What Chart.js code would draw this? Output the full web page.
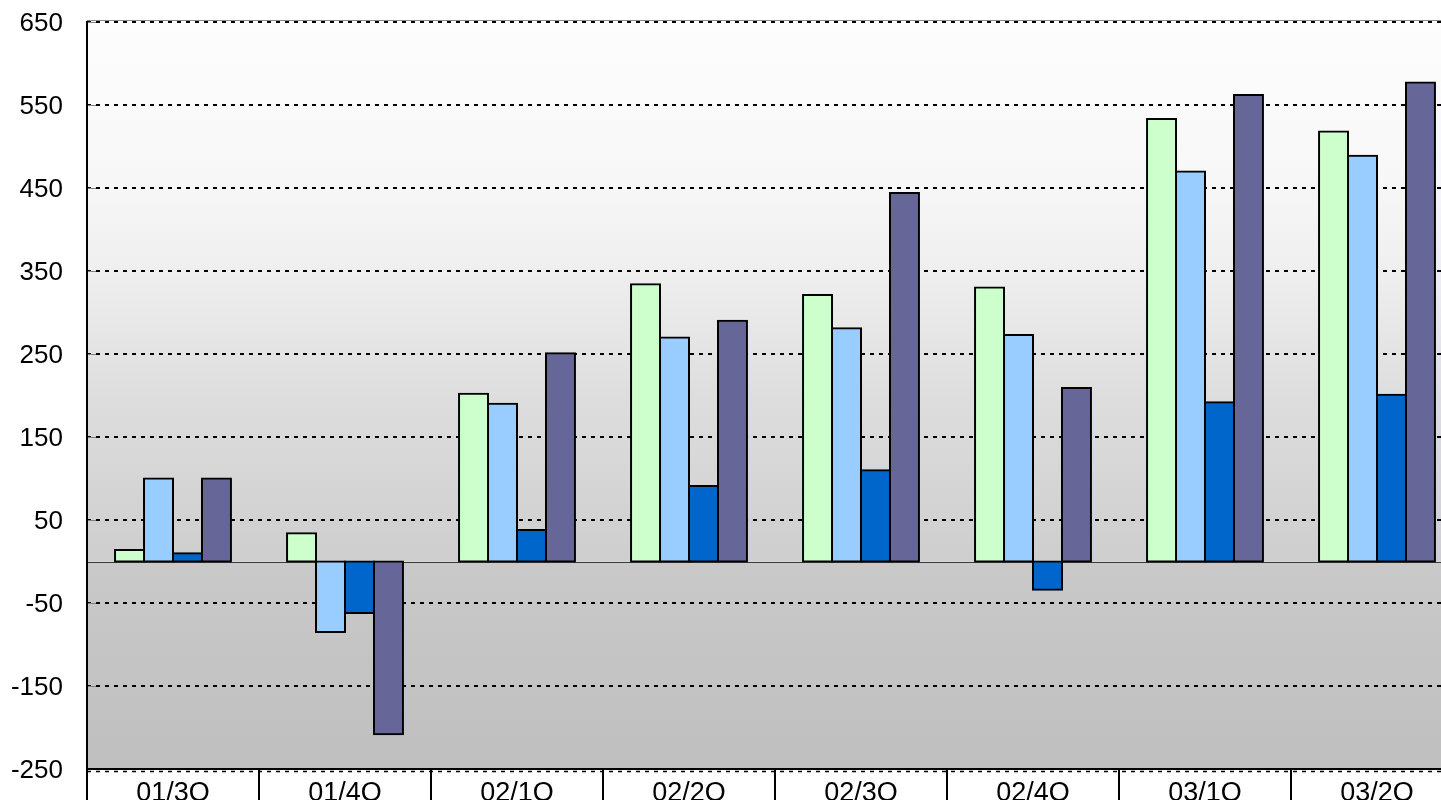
<!DOCTYPE html>
<html>
<head>
<meta charset="utf-8">
<script src="https://cdn.jsdelivr.net/npm/chart.js@4/dist/chart.umd.min.js"></script>
<style>
  html, body { margin: 0; padding: 0; background: #ffffff; overflow: hidden; }
  #wrap { width: 1441px; height: 800px; overflow: hidden; position: relative; }
  canvas { display: block; }
</style>
</head>
<body>
<div id="wrap"><canvas id="c" width="1463" height="830"></canvas></div>
<script>
// Quarterly figures, four series per quarter
const categories = ['01/3Q', '01/4Q', '02/1Q', '02/2Q', '02/3Q', '02/4Q', '03/1Q', '03/2Q'];
const seriesGreen = [14, 34, 202, 334, 321, 330, 533, 518];
const seriesLightBlue = [100, -85, 190, 270, 281, 273, 470, 489];
const seriesBlue = [10, -62, 38, 91, 110, -34, 192, 201];
const seriesPurple = [100, -208, 251, 290, 444, 209, 562, 577];

// Value axis range and tick spacing
const yMin = -250;
const yMax = 650;
const yStep = 100;

const FONT = '"Liberation Sans", Arial, Helvetica, sans-serif';

// Plot background, zero line, frame and category separators
const plotFrame = {
  id: 'plotFrame',
  beforeDraw(chart) {
    const { ctx, chartArea: a, scales: { y } } = chart;
    const zeroY = y.getPixelForValue(0);
    ctx.save();
    const up = ctx.createLinearGradient(0, a.top, 0, zeroY);
    up.addColorStop(0.00, '#fdfdfd');
    up.addColorStop(0.27, '#f8f8f8');
    up.addColorStop(0.46, '#efefef');
    up.addColorStop(0.70, '#dddddd');
    up.addColorStop(1.00, '#cecece');
    ctx.fillStyle = up;
    ctx.fillRect(a.left, a.top, a.right - a.left, zeroY - a.top);
    const down = ctx.createLinearGradient(0, zeroY, 0, a.bottom);
    down.addColorStop(0, '#c9c9c9');
    down.addColorStop(1, '#bfbfbf');
    ctx.fillStyle = down;
    ctx.fillRect(a.left, zeroY, a.right - a.left, a.bottom - zeroY);
    ctx.restore();
  },
  beforeDatasetsDraw(chart) {
    const { ctx, chartArea: a, scales: { y } } = chart;
    const zeroY = Math.round(y.getPixelForValue(0)) + 0.5;
    ctx.save();
    ctx.strokeStyle = '#3a3a3a';
    ctx.lineWidth = 1;
    ctx.beginPath();
    ctx.moveTo(a.left, zeroY);
    ctx.lineTo(a.right, zeroY);
    ctx.stroke();
    ctx.restore();
  },
  afterDraw(chart) {
    const { ctx, chartArea: a, scales: { x, y } } = chart;
    const H = chart.height;
    ctx.save();
    // short inward tick marks on the value axis
    ctx.strokeStyle = '#808080';
    ctx.lineWidth = 1;
    y.ticks.forEach(t => {
      const py = Math.round(y.getPixelForValue(t.value)) + 0.5;
      ctx.beginPath();
      ctx.moveTo(a.left, py);
      ctx.lineTo(a.left + 9, py);
      ctx.stroke();
    });
    // top edge
    ctx.fillStyle = '#8a8a8a';
    ctx.fillRect(a.left, a.top - 2, a.right - a.left, 1);
    // bottom edge: solid rule plus a dashed rule just below
    ctx.fillStyle = '#000000';
    ctx.fillRect(a.left, a.bottom - 1, a.right - a.left, 2);
    ctx.strokeStyle = '#000000';
    ctx.lineWidth = 1.5;
    ctx.setLineDash([4, 5]);
    ctx.beginPath();
    ctx.moveTo(a.left, a.bottom + 2.5);
    ctx.lineTo(a.right, a.bottom + 2.5);
    ctx.stroke();
    ctx.setLineDash([]);
    // left axis line
    ctx.fillRect(a.left - 1, a.top - 1, 2, H - a.top + 1);
    // category separators below the plot
    const n = categories.length;
    for (let i = 1; i <= n; i++) {
      const px = i < n
        ? (x.getPixelForValue(i - 1) + x.getPixelForValue(i)) / 2
        : a.right;
      ctx.fillRect(Math.round(px) - 1, a.bottom, 2, H - a.bottom);
    }
    ctx.restore();
  }
};

const barCommon = {
  borderColor: '#000000',
  borderWidth: 2,
  borderSkipped: false,
  inflateAmount: 1,
  categoryPercentage: 0.674,
  barPercentage: 1.0
};

new Chart(document.getElementById('c'), {
  type: 'bar',
  data: {
    labels: categories,
    datasets: [
      Object.assign({ label: 'A', data: seriesGreen, backgroundColor: '#ccffcc' }, barCommon),
      Object.assign({ label: 'B', data: seriesLightBlue, backgroundColor: '#99ccff' }, barCommon),
      Object.assign({ label: 'C', data: seriesBlue, backgroundColor: '#0066cc' }, barCommon),
      Object.assign({ label: 'D', data: seriesPurple, backgroundColor: '#666699' }, barCommon)
    ]
  },
  options: {
    responsive: false,
    animation: false,
    devicePixelRatio: 1,
    layout: { padding: { top: 22, left: 0, right: 0, bottom: 0 } },
    plugins: {
      legend: { display: false },
      tooltip: { enabled: false }
    },
    scales: {
      x: {
        offset: true,
        grid: { display: false, drawTicks: false },
        border: { display: false },
        ticks: {
          color: '#000000',
          font: { family: FONT, size: 27 },
          padding: 8,
          maxRotation: 0,
          autoSkip: false
        },
        afterFit(scale) {
          scale.height = 61;
          scale.paddingLeft = 0;
          scale.paddingRight = 0;
        }
      },
      y: {
        min: yMin,
        max: yMax,
        grid: { color: '#000000', lineWidth: 2, drawTicks: false },
        border: { display: false, dash: [4, 5] },
        ticks: {
          stepSize: yStep,
          color: '#000000',
          font: { family: FONT, size: 26 },
          padding: 24,
          labelOffset: 2
        },
        afterFit(scale) {
          scale.width = 87;
          scale.paddingTop = 0;
          scale.paddingBottom = 0;
        }
      }
    }
  },
  plugins: [plotFrame]
});
</script>
</body>
</html>
